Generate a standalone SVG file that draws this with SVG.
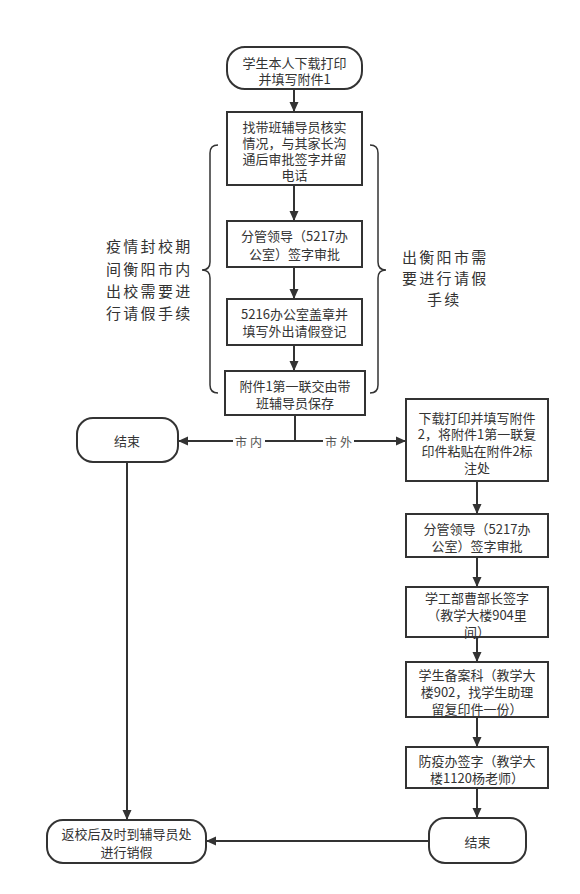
<svg xmlns="http://www.w3.org/2000/svg" width="580" height="894" viewBox="0 0 580 894">
<defs>
<style>
.n{fill:#fff;stroke:#333;stroke-width:2}
.t{font-family:"Noto Sans CJK SC","Liberation Sans",sans-serif;font-size:13px;fill:#333;text-anchor:middle;dominant-baseline:central}
.side{font-family:"Noto Sans CJK SC","Liberation Sans",sans-serif;font-size:15px;fill:#333;letter-spacing:2.3px;dominant-baseline:central}
.lbl{font-family:"Noto Sans CJK SC","Liberation Sans",sans-serif;font-size:12px;fill:#555;letter-spacing:3px;dominant-baseline:central}
.e{fill:none;stroke:#333;stroke-width:2}
.br{fill:none;stroke:#333;stroke-width:1.5}
</style>
<marker id="a" markerWidth="10" markerHeight="10" refX="9" refY="5" orient="auto" markerUnits="userSpaceOnUse">
<path d="M0,0.5 L10,5 L0,9.5 Z" fill="#333"/>
</marker>
</defs>
<rect width="580" height="894" fill="#fff"/>

<g id="connectors">
<line class="e" x1="294" y1="89" x2="294" y2="111" marker-end="url(#a)"/>
<line class="e" x1="294" y1="185" x2="294" y2="220" marker-end="url(#a)"/>
<line class="e" x1="294" y1="267" x2="294" y2="298" marker-end="url(#a)"/>
<line class="e" x1="294" y1="345" x2="294" y2="370" marker-end="url(#a)"/>
<line class="e" x1="295" y1="415" x2="295" y2="441"/>
<line class="e" x1="295" y1="441" x2="179" y2="441" marker-end="url(#a)"/>
<line class="e" x1="295" y1="441" x2="405" y2="441" marker-end="url(#a)"/>
<line class="e" x1="127" y1="462" x2="127" y2="819" marker-end="url(#a)"/>
<line class="e" x1="477" y1="481" x2="477" y2="513" marker-end="url(#a)"/>
<line class="e" x1="477" y1="557" x2="477" y2="586" marker-end="url(#a)"/>
<line class="e" x1="477" y1="637" x2="477" y2="661" marker-end="url(#a)"/>
<line class="e" x1="477" y1="717" x2="477" y2="746" marker-end="url(#a)"/>
<line class="e" x1="477" y1="788" x2="477" y2="817" marker-end="url(#a)"/>
<line class="e" x1="429" y1="841" x2="207" y2="841" marker-end="url(#a)"/>
<rect x="233" y="433" width="32" height="16" fill="#fff"/>
<text class="lbl" x="235" y="441">市内</text>
<rect x="323" y="433" width="31" height="16" fill="#fff"/>
<text class="lbl" x="325" y="441">市外</text>
</g>

<g id="braces">
<path class="br" d="M218,145 Q210,145 210,153 L210,262 Q210,270 202,270 Q210,270 210,278 L210,385 Q210,393 218,393"/>
<path class="br" d="M370,145 Q378,145 378,153 L378,262 Q378,270 386,270 Q378,270 378,278 L378,385 Q378,393 370,393"/>
<text class="side" x="106" y="245">疫情封校期</text>
<text class="side" x="106" y="268">间衡阳市内</text>
<text class="side" x="106" y="290">出校需要进</text>
<text class="side" x="106" y="312">行请假手续</text>
<text class="side" x="402" y="256">出衡阳市需</text>
<text class="side" x="402" y="277">要进行请假</text>
<text class="side" x="427" y="298">手续</text>
</g>

<g id="start">
<rect class="n" x="227" y="47" width="135" height="42" rx="18"/>
<text class="t" x="294.5" y="62">学生本人下载打印</text>
<text class="t" x="294.5" y="78">并填写附件1</text>
</g>

<g id="n2">
<rect class="n" x="227" y="112" width="135" height="73"/>
<text class="t" x="294.5" y="126">找带班辅导员核实</text>
<text class="t" x="294.5" y="142">情况，与其家长沟</text>
<text class="t" x="294.5" y="158">通后审批签字并留</text>
<text class="t" x="294.5" y="174">电话</text>
</g>

<g id="n3">
<rect class="n" x="227" y="221" width="135" height="46"/>
<text class="t" x="294.5" y="235">分管领导（5217办</text>
<text class="t" x="294.5" y="253">公室）签字审批</text>
</g>

<g id="n4">
<rect class="n" x="227" y="299" width="135" height="46"/>
<text class="t" x="294.5" y="313">5216办公室盖章并</text>
<text class="t" x="294.5" y="330">填写外出请假登记</text>
</g>

<g id="n5">
<rect class="n" x="225" y="371" width="140" height="44"/>
<text class="t" x="295" y="385">附件1第一联交由带</text>
<text class="t" x="295" y="402">班辅导员保存</text>
</g>

<g id="end1">
<rect class="n" x="77" y="418" width="101" height="44" rx="16"/>
<text class="t" x="127" y="440">结束</text>
</g>

<g id="r1">
<rect class="n" x="406" y="399" width="142" height="82"/>
<text class="t" x="477" y="417">下载打印并填写附件</text>
<text class="t" x="477" y="433">2，将附件1第一联复</text>
<text class="t" x="477" y="450">印件粘贴在附件2标</text>
<text class="t" x="477" y="467">注处</text>
</g>

<g id="r2">
<rect class="n" x="406" y="514" width="142" height="43"/>
<text class="t" x="477" y="528">分管领导（5217办</text>
<text class="t" x="477" y="545">公室）签字审批</text>
</g>

<g id="r3">
<rect class="n" x="406" y="587" width="142" height="50"/>
<text class="t" x="477" y="597">学工部曹部长签字</text>
<text class="t" x="477" y="614">（教学大楼904里</text>
<text class="t" x="477" y="631">间）</text>
</g>

<g id="r4">
<rect class="n" x="406" y="662" width="142" height="55"/>
<text class="t" x="477" y="674">学生备案科（教学大</text>
<text class="t" x="477" y="691">楼902，找学生助理</text>
<text class="t" x="477" y="708">留复印件一份）</text>
</g>

<g id="r5">
<rect class="n" x="406" y="747" width="142" height="41"/>
<text class="t" x="477" y="760">防疫办签字（教学大</text>
<text class="t" x="477" y="777">楼1120杨老师）</text>
</g>

<g id="end2">
<rect class="n" x="429" y="818" width="97" height="45" rx="16"/>
<text class="t" x="477.5" y="841">结束</text>
</g>

<g id="return">
<rect class="n" x="47" y="820" width="159" height="43" rx="16"/>
<text class="t" x="126.5" y="833">返校后及时到辅导员处</text>
<text class="t" x="126.5" y="851">进行销假</text>
</g>
</svg>
